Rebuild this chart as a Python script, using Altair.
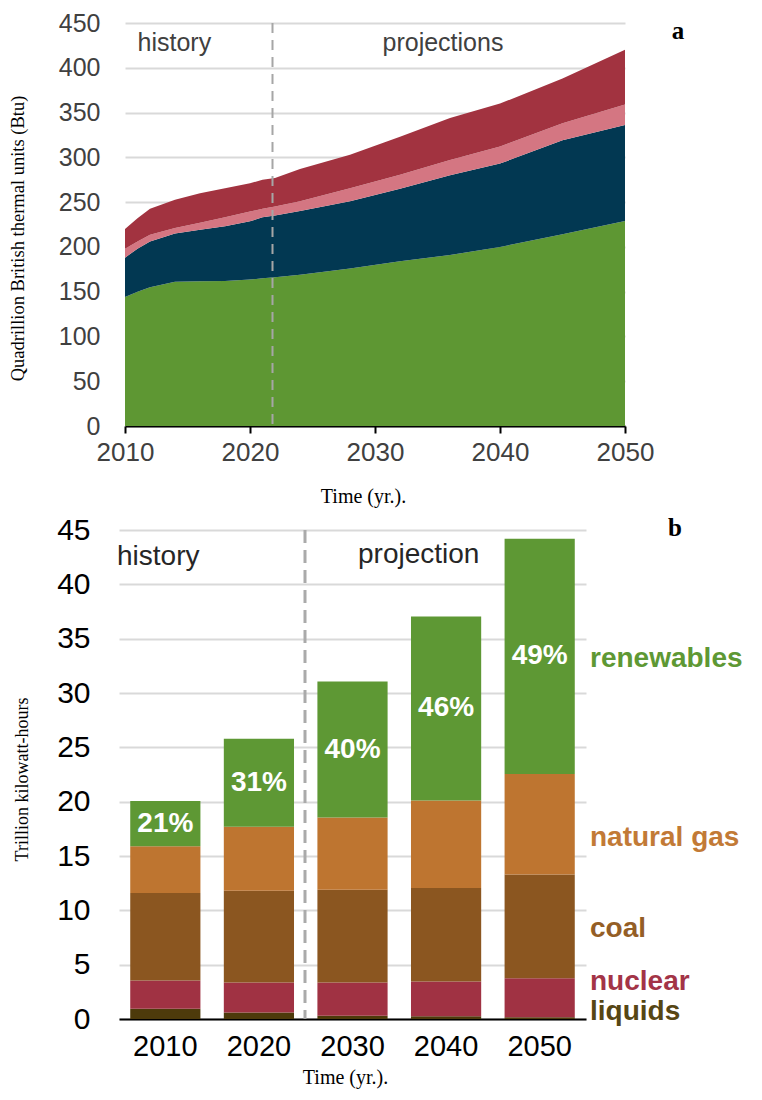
import altair as alt
import pandas as pd

# ---------------- Panel a: stacked areas ----------------
years_a = [2010, 2011, 2012, 2014, 2016, 2018, 2020, 2021, 2022, 2024,
           2028, 2032, 2036, 2040, 2045, 2050]
green_a = [144, 150, 155, 161, 161.5, 162, 163.5, 165, 166, 169,
           176, 184, 191, 200, 214, 229]
navy_a = [44, 48, 51, 54, 57.5, 61, 65, 68, 69, 71,
          75, 81, 89, 93, 105, 107]
pink_a = [10, 8, 7.5, 6, 8, 10, 11, 9.5, 10, 11,
          14.5, 15.5, 17, 19, 19, 23]
red_a = [22, 26, 29, 31.5, 33, 32.5, 31.5, 32.5, 32, 36,
         37.5, 42.5, 47, 48, 50, 61]
series_a = ["green band", "navy band", "pink band", "red band"]
colors_a = ["#5E9733", "#023852", "#D47682", "#A23340"]
divider_year_a = [2021.8]

rows = []
for i, y in enumerate(years_a):
    for k, vals in enumerate([green_a, navy_a, pink_a, red_a]):
        rows.append({"year": y, "series": series_a[k], "value": vals[i], "ord": k})
df_a = pd.DataFrame(rows)

xa = alt.X("year:Q",
           scale=alt.Scale(domain=[2010, 2050], range=[6, 506], nice=False, zero=False),
           axis=alt.Axis(values=[2010, 2020, 2030, 2040, 2050], format="d",
                         labelFontSize=26, labelColor="#404040", labelPadding=6,
                         labelFlush=False,
                         domainColor="black", domainWidth=2, tickColor="black",
                         tickWidth=2, tickSize=7, grid=False,
                         title="Time (yr.).", titleFontSize=20, titleFontWeight="normal",
                         titleColor="black", titleX=244, titleY=70,
                         titleBaseline="middle", titleAlign="center"))
ya = alt.Y("value:Q", stack="zero",
           scale=alt.Scale(domain=[0, 450], nice=False),
           axis=alt.Axis(values=list(range(0, 451, 50)), labelFontSize=25,
                         labelColor="#404040", labelPadding=19, labelFlush=False,
                         domain=False,
                         ticks=False, grid=True, gridColor="#d9d9d9", gridWidth=2,
                         title="Quadrillion British thermal units (Btu)",
                         titleFontSize=18.5, titleFontWeight="normal", titleColor="black",
                         titleX=-102, titleY=215, titleBaseline="middle",
                         titleAlign="center", titleAngle=270))

area = alt.Chart(df_a).mark_area(interpolate="linear").encode(
    x=xa, y=ya,
    color=alt.Color("series:N", scale=alt.Scale(domain=series_a, range=colors_a), legend=None),
    order=alt.Order("ord:Q", sort="ascending"),
)

rule_a = alt.Chart(pd.DataFrame({"year": divider_year_a})).mark_rule(
    color="#a6a6a6", strokeWidth=2, strokeDash=[10, 7]
).encode(x="year:Q", y=alt.value(0), y2=alt.value(403))

ann_a = pd.DataFrame({
    "text": ["history", "projections"],
    "year": [2011.0, 2030.6],
    "value": [428, 428],
})
txt_a = alt.Chart(ann_a).mark_text(
    align="left", baseline="middle", fontSize=25, font="Liberation Sans", color="#404040"
).encode(x="year:Q", y="value:Q", text="text:N")

lab_a = alt.Chart(pd.DataFrame({"t": ["a"]})).mark_text(
    align="center", baseline="middle", fontSize=25, font="Liberation Serif",
    fontWeight="bold", color="black"
).encode(x=alt.value(559), y=alt.value(8), text="t:N")

top = alt.layer(area, rule_a, txt_a, lab_a).properties(width=506, height=403)

# ---------------- Panel b: stacked bars ----------------
years_b = ["2010", "2020", "2030", "2040", "2050"]
liquids = [0.95, 0.6, 0.3, 0.25, 0.15]
nuclear = [2.6, 2.75, 3.05, 3.2, 3.6]
coal = [8.05, 8.45, 8.55, 8.6, 9.55]
natural_gas = [4.3, 5.9, 6.65, 8.05, 9.25]
renewables = [4.15, 8.1, 12.5, 16.95, 21.65]
pct_labels = ["21%", "31%", "40%", "46%", "49%"]
sources_b = ["liquids", "nuclear", "coal", "natural gas", "renewables"]
colors_b = ["#4D3A0B", "#A03243", "#8B5620", "#BE7530", "#5E9834"]
text_colors_b = ["#564614", "#A33447", "#945E26", "#C27A36", "#5E9834"]
label_y_b = [0.64, 3.4, 8.3, 16.65, 33.15]

rows = []
for i, yr in enumerate(years_b):
    for k, vals in enumerate([liquids, nuclear, coal, natural_gas, renewables]):
        rows.append({"yr": yr, "source": sources_b[k], "twh": vals[i], "rank": k})
df_b = pd.DataFrame(rows)

base_other = [liquids[i] + nuclear[i] + coal[i] + natural_gas[i] for i in range(5)]
df_pct = pd.DataFrame({
    "yr": years_b,
    "mid": [base_other[i] + renewables[i] / 2 for i in range(5)],
    "label": pct_labels,
})

xb = alt.X("yr:O",
           scale=alt.Scale(paddingInner=0.25, paddingOuter=0.12),
           axis=alt.Axis(labelAngle=0, labelFontSize=29, labelColor="black",
                         labelPadding=13, domainColor="black", domainWidth=2,
                         ticks=False, grid=False,
                         title="Time (yr.).", titleFontSize=20, titleFontWeight="normal",
                         titleColor="black", titleX=226, titleY=58,
                         titleBaseline="middle", titleAlign="center"))
yb = alt.Y("twh:Q", stack="zero",
           scale=alt.Scale(domain=[0, 45], nice=False),
           axis=alt.Axis(values=list(range(0, 46, 5)), labelFontSize=30,
                         labelColor="black", labelPadding=29, labelFlush=False,
                         domain=False,
                         ticks=False, grid=True, gridColor="#d9d9d9", gridWidth=2,
                         title="Trillion kilowatt-hours", titleFontSize=18,
                         titleFontWeight="normal", titleColor="black",
                         titleX=-97, titleY=249, titleBaseline="middle",
                         titleAlign="center", titleAngle=270))

bars = alt.Chart(df_b).mark_bar().encode(
    x=xb, y=yb,
    color=alt.Color("source:N", scale=alt.Scale(domain=sources_b, range=colors_b), legend=None),
    order=alt.Order("rank:Q", sort="ascending"),
)

pct = alt.Chart(df_pct).mark_text(
    fontSize=28, fontWeight="bold", font="Liberation Sans", color="white",
    baseline="middle", align="center"
).encode(x="yr:O", y="mid:Q", text="label:N")

df_lab = pd.DataFrame({"source": sources_b, "y": label_y_b, "c": text_colors_b})
side = alt.Chart(df_lab).mark_text(
    fontSize=28, fontWeight="bold", font="Liberation Sans", align="left", baseline="middle"
).encode(x=alt.value(471), y="y:Q", text="source:N", color=alt.Color("c:N", scale=None))

rule_b = alt.Chart(pd.DataFrame({"d": [1]})).mark_rule(
    color="#aaaaaa", strokeWidth=3, strokeDash=[13, 7]
).encode(x=alt.value(186), y=alt.value(0), y2=alt.value(489))

hist_b = alt.Chart(pd.DataFrame({"t": ["history"]})).mark_text(
    align="left", baseline="middle", fontSize=28, font="Liberation Sans", color="#262626"
).encode(x=alt.value(-2), y=alt.value(27), text="t:N")
proj_b = alt.Chart(pd.DataFrame({"t": ["projection"]})).mark_text(
    align="left", baseline="middle", fontSize=28, font="Liberation Sans", color="#262626"
).encode(x=alt.value(239), y=alt.value(25), text="t:N")
lab_b = alt.Chart(pd.DataFrame({"t": ["b"]})).mark_text(
    align="center", baseline="middle", fontSize=25, font="Liberation Serif",
    fontWeight="bold", color="black"
).encode(x=alt.value(556), y=alt.value(-2), text="t:N")

bottom = alt.layer(bars, rule_b, pct, side, hist_b, proj_b, lab_b).properties(width=467, height=489)

chart = alt.vconcat(top, bottom, spacing=9).resolve_scale(
    color="independent"
).properties(
    padding={"top": 3, "left": 0, "right": 5, "bottom": 5}
).configure_view(stroke=None).configure_axis(
    labelFont="Liberation Sans", titleFont="Liberation Serif"
)

chart.save("out.html", embed_options={"renderer": "svg", "actions": False})
